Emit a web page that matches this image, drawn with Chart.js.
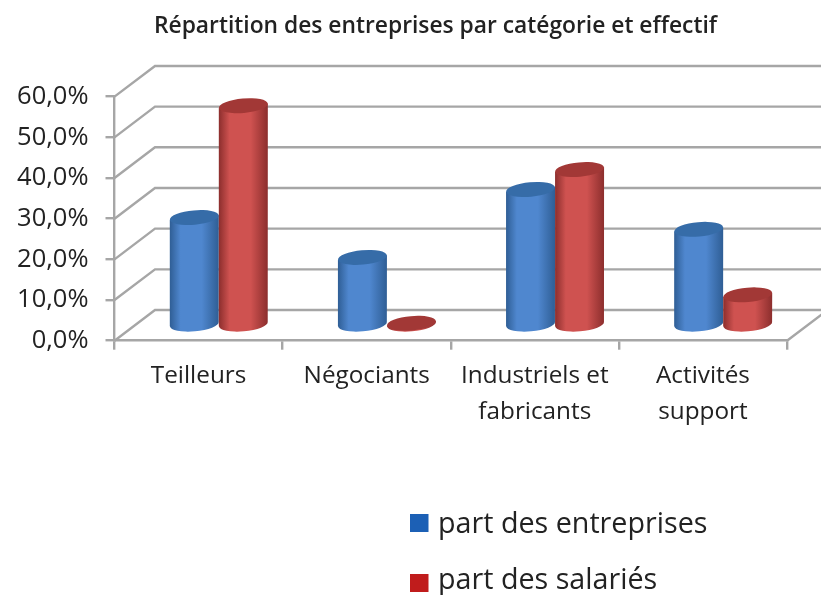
<!DOCTYPE html>
<html lang="fr">
<head>
<meta charset="utf-8">
<title>Répartition des entreprises</title>
<script src="https://cdn.jsdelivr.net/npm/chart.js@4"></script>
<style>
  html, body { margin: 0; padding: 0; background: #fff; }
  canvas { display: block; }
</style>
</head>
<body>
<canvas id="myChart" width="821" height="595"></canvas>
<script>
const categories = ['Teilleurs', 'Négociants', ['Industriels et', 'fabricants'], ['Activités', 'support']];
const partEntreprises = [26.5, 16.7, 33.4, 23.6];
const partSalaries = [54, 0.5, 38.3, 7.5];

const depth = { x: 40.5, y: -30.7 };
const gridColor = '#a6a6a6';
const fontName = '"Open Sans", sans-serif';

// edge, centre, top cap
const blueShades = ['#2f5e95', '#4f87cf', '#366ca8'];
const redShades = ['#8c2e2d', '#cf5250', '#a23836'];

const backWall = {
  id: 'backWall',
  afterLayout(chart) {
    // centre the title on its own spot, not on the chart width
    chart.titleBlock.left = 50;
    chart.titleBlock.right = 821;
  },
  beforeDatasetsDraw(chart) {
    const c = chart.ctx, x = chart.scales.x, y = chart.scales.y;
    c.save();
    c.strokeStyle = gridColor;
    c.lineWidth = 2.4;
    c.beginPath();
    y.ticks.forEach((t, i) => {
      const py = y.getPixelForTick(i);
      c.moveTo(x.left, py);
      c.lineTo(x.left + depth.x, py + depth.y);
      c.lineTo(821, py + depth.y);
    });
    c.moveTo(x.right, y.bottom);
    c.lineTo(x.right + depth.x, y.bottom + depth.y);
    c.stroke();
    c.restore();

    // blue first so the red cylinders sit on top of them
    chart.getDatasetMeta(0).data.forEach(bar => drawCylinder(c, bar, blueShades));
    chart.getDatasetMeta(1).data.forEach(bar => drawCylinder(c, bar, redShades));
  },
  beforeDatasetDraw() {
    return false;
  },
  afterDraw(chart) {
    const c = chart.ctx;
    const rows = [[514, 533], [574, 589]];
    c.save();
    c.font = '28.7px ' + fontName;
    c.textBaseline = 'alphabetic';
    chart.data.datasets.forEach((ds, i) => {
      c.fillStyle = ds.backgroundColor;
      c.fillRect(410, rows[i][0], 18.5, 18);
      c.fillStyle = '#222';
      c.fillText(ds.label, 438, rows[i][1]);
    });
    c.restore();
  }
};

function drawCylinder(c, bar, shades) {
  const cx = bar.x + depth.x / 2;
  const top = bar.y + depth.y / 2;
  const base = bar.base + depth.y / 2;
  const rx = bar.width / 2, ry = 7.2, tilt = -0.09;
  const dy = rx * Math.sin(tilt);

  const grad = c.createLinearGradient(cx - rx, 0, cx + rx, 0);
  grad.addColorStop(0, shades[0]);
  grad.addColorStop(0.22, shades[1]);
  grad.addColorStop(0.65, shades[1]);
  grad.addColorStop(1, shades[0]);

  c.save();
  c.fillStyle = grad;
  c.beginPath();
  c.moveTo(cx - rx, top - dy);
  c.lineTo(cx - rx, base - dy);
  c.ellipse(cx, base, rx, ry, tilt, Math.PI, 0, true);
  c.lineTo(cx + rx, top + dy);
  c.closePath();
  c.fill();

  c.fillStyle = shades[2];
  c.beginPath();
  c.ellipse(cx, top, rx, ry, tilt, 0, Math.PI * 2);
  c.fill();
  c.restore();
}

new Chart(document.getElementById('myChart'), {
  type: 'bar',
  data: {
    labels: categories,
    datasets: [
      { label: 'part des entreprises', data: partEntreprises, backgroundColor: '#1c60b5' },
      { label: 'part des salariés', data: partSalaries, backgroundColor: '#c01c1c' }
    ]
  },
  plugins: [backWall],
  options: {
    responsive: false,
    animation: false,
    layout: { padding: { left: 0, right: 34, top: 0, bottom: 0 } },
    categoryPercentage: 0.583,
    barPercentage: 1,
    plugins: {
      legend: { display: false },
      tooltip: { enabled: false },
      title: {
        display: true,
        text: 'Répartition des entreprises par catégorie et effectif',
        color: '#222',
        font: { family: fontName, size: 22.8, weight: 600 },
        padding: { top: 13.3, bottom: 56.0 }
      }
    },
    scales: {
      x: {
        afterFit(scale) { scale.height = 254.3; },
        border: { color: gridColor, width: 2.4 },
        grid: { drawOnChartArea: false, tickLength: 9, color: gridColor, lineWidth: 2.4 },
        ticks: { color: '#222', padding: 8, maxRotation: 0, font: { family: fontName, size: 24.3, lineHeight: 1.5 } }
      },
      y: {
        min: 0,
        max: 60,
        afterFit(scale) { scale.width = 114.5; },
        border: { color: gridColor, width: 2.4 },
        grid: { drawOnChartArea: false, tickLength: 9, color: gridColor, lineWidth: 2.4 },
        ticks: {
          stepSize: 10,
          color: '#222',
          padding: 17,
          font: { family: fontName, size: 25.5 },
          callback: v => v.toFixed(1).replace('.', ',') + '%'
        }
      }
    }
  }
});
</script>
</body>
</html>
